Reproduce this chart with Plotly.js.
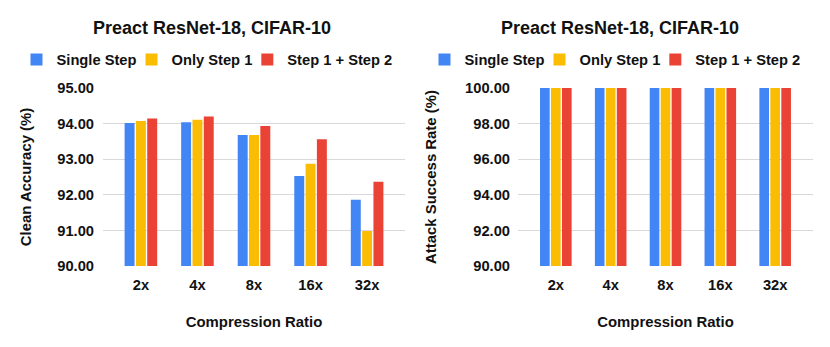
<!DOCTYPE html>
<html>
<head>
<meta charset="utf-8">
<script src="https://cdn.plot.ly/plotly-3.0.1.min.js"></script>
<style>html,body{margin:0;padding:0;background:#fff}#chart{width:830px;height:347px}</style>
</head>
<body>
<div id="chart"></div>
<script>
// ---- data ----
const categories = ["2x", "4x", "8x", "16x", "32x"];
const seriesNames = ["Single Step", "Only Step 1", "Step 1 + Step 2"];
const cleanSingle = [94.02, 94.04, 93.68, 92.53, 91.86];
const cleanOnly1 = [94.07, 94.11, 93.68, 92.87, 90.98];
const cleanBoth = [94.14, 94.20, 93.93, 93.56, 92.37];
const asrSingle = [100, 100, 100, 100, 100];
const asrOnly1 = [100, 100, 100, 100, 100];
const asrBoth = [100, 100, 100, 100, 100];
const chartTitle = "Preact ResNet-18, CIFAR-10";
const xTitle = "Compression Ratio";
const yTitleLeft = "Clean Accuracy (%)";
const yTitleRight = "Attack Success Rate (%)";

// ---- styles ----
const colors = ["#4285F4", "#FBBC04", "#EA4335"];
const FONT = "Arial, 'Liberation Sans', sans-serif";
const INK = "#111";
const W = 830, H = 347;
const px = v => v / W;
const py = v => 1 - v / H;

const leftVals = [cleanSingle, cleanOnly1, cleanBoth];
const rightVals = [asrSingle, asrOnly1, asrBoth];

const traces = [];
leftVals.forEach((vals, i) => {
  traces.push({
    type: "bar", x: categories, y: vals, name: seriesNames[i],
    marker: {color: colors[i]}, xaxis: "x", yaxis: "y", legend: "legend",
    hoverinfo: "x+y+name"
  });
});
rightVals.forEach((vals, i) => {
  traces.push({
    type: "bar", x: categories, y: vals, name: seriesNames[i],
    marker: {color: colors[i]}, xaxis: "x2", yaxis: "y2", legend: "legend2",
    hoverinfo: "x+y+name"
  });
});

const tickFont = {family: FONT, size: 14.7, color: INK, weight: 700};
const titleFont = {family: FONT, size: 14.9, color: INK, weight: 700};
const legendCommon = {
  orientation: "h", xanchor: "center", yanchor: "middle",
  font: {family: FONT, size: 14.7, color: INK, weight: 700},
  indentation: -10,
  bgcolor: "rgba(0,0,0,0)", itemclick: false, itemdoubleclick: false
};

const layout = {
  width: W, height: H,
  margin: {l: 0, r: 0, t: 0, b: 0},
  paper_bgcolor: "#fff", plot_bgcolor: "#fff",
  barmode: "group", bargap: 0.4, bargroupgap: 0.12,
  showlegend: true,
  legend: Object.assign({x: px(212), y: py(60)}, legendCommon),
  legend2: Object.assign({x: px(620), y: py(60)}, legendCommon),
  xaxis: {
    domain: [px(103), px(405)], anchor: "y",
    type: "category", range: [-0.67, 4.67],
    showgrid: false, zeroline: false, showline: false, ticks: "",
    tickfont: tickFont, ticklabelstandoff: 8,
    title: {text: xTitle, font: titleFont, standoff: 24}
  },
  yaxis: {
    domain: [py(266), py(88)], anchor: "x",
    range: [90, 95], dtick: 1, tickformat: ".2f",
    showgrid: true, gridcolor: "#d9d9d9", gridwidth: 1,
    zeroline: false, showline: false, ticks: "",
    tickfont: tickFont, ticklabelstandoff: 8,
    title: {text: yTitleLeft, font: titleFont, standoff: 22}
  },
  xaxis2: {
    domain: [px(518), px(813)], anchor: "y2",
    type: "category", range: [-0.69, 4.69],
    showgrid: false, zeroline: false, showline: false, ticks: "",
    tickfont: tickFont, ticklabelstandoff: 8,
    title: {text: xTitle, font: titleFont, standoff: 24}
  },
  yaxis2: {
    domain: [py(266), py(88)], anchor: "x2",
    range: [90, 100], dtick: 2, tickformat: ".2f",
    showgrid: true, gridcolor: "#d9d9d9", gridwidth: 1,
    zeroline: false, showline: false, ticks: "",
    tickfont: tickFont, ticklabelstandoff: 7,
    title: {text: yTitleRight, font: titleFont, standoff: 24}
  },
  annotations: [
    {text: chartTitle, xref: "paper", yref: "paper", x: px(212), y: py(28),
     xanchor: "center", yanchor: "middle", showarrow: false,
     font: {family: FONT, size: 18, color: INK, weight: 700}},
    {text: chartTitle, xref: "paper", yref: "paper", x: px(620), y: py(28),
     xanchor: "center", yanchor: "middle", showarrow: false,
     font: {family: FONT, size: 18, color: INK, weight: 700}}
  ]
};

Plotly.newPlot("chart", traces, layout, {staticPlot: true, displayModeBar: false});
</script>
</body>
</html>
